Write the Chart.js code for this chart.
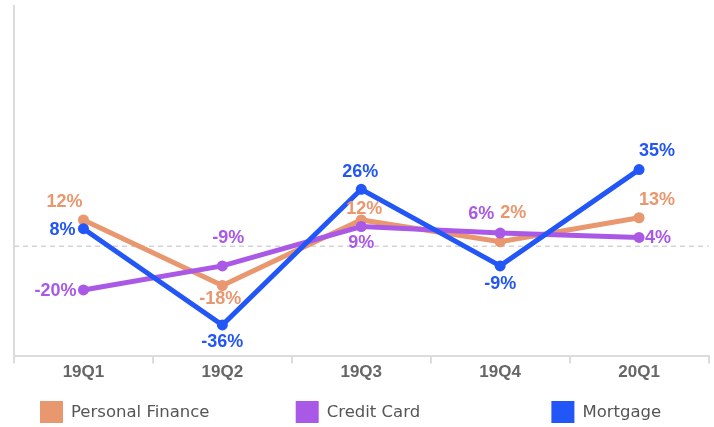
<!DOCTYPE html>
<html><head><meta charset="utf-8">
<script src="https://cdn.jsdelivr.net/npm/chart.js@4.4.0/dist/chart.umd.min.js"></script>
<style>html,body{margin:0;padding:0;background:#fff;} #wrap{width:714px;height:427px;position:relative;}</style>
</head><body><div id="wrap"><canvas id="c"></canvas></div>
<script>
const categories = ['19Q1', '19Q2', '19Q3', '19Q4', '20Q1'];
const personalFinance = [12, -18, 12, 2, 13];
const creditCard = [-20, -9, 9, 6, 4];
const mortgage = [8, -36, 26, -9, 35];
const seriesNames = ['Personal Finance', 'Credit Card', 'Mortgage'];

const colors = ['#E9976F', '#A959E6', '#2256F6'];
// label offsets relative to each point (style only)
const labelOffsets = [
  [[-19,-19],[-2,12],[3,-12],[13,-30],[18,-19]],
  [[-28,0],[6,-29],[0,16],[-19,-20],[19,0]],
  [[-21,0],[0,16],[-1,-18],[0,17],[18,-20]]
];

const zeroLine = {
  id: 'zeroLine',
  beforeDatasetsDraw(chart) {
    const {ctx, chartArea, scales} = chart;
    const y = scales.y.getPixelForValue(0);
    ctx.save();
    ctx.strokeStyle = '#d3d3d3';
    ctx.lineWidth = 1.5;
    ctx.setLineDash([5, 4]);
    ctx.beginPath();
    ctx.moveTo(chartArea.left, y);
    ctx.lineTo(chartArea.right, y);
    ctx.stroke();
    ctx.restore();
  }
};

const pointLabels = {
  id: 'pointLabels',
  afterDatasetsDraw(chart) {
    const ctx = chart.ctx;
    ctx.save();
    ctx.font = 'bold 18px "Liberation Sans", Arial, sans-serif';
    ctx.textAlign = 'center';
    ctx.textBaseline = 'middle';
    chart.data.datasets.forEach((ds, i) => {
      const meta = chart.getDatasetMeta(i);
      meta.data.forEach((pt, j) => {
        const off = labelOffsets[i][j];
        ctx.fillStyle = ds.borderColor;
        ctx.fillText(Math.round(ds.data[j]) + '%', pt.x + off[0], pt.y + off[1] + 1);
      });
    });
    ctx.restore();
  }
};

const columnLegend = {
  id: 'columnLegend',
  afterDraw(chart) {
    const ctx = chart.ctx;
    ctx.save();
    ctx.font = '16.5px "DejaVu Sans", sans-serif';
    ctx.textBaseline = 'middle';
    ctx.textAlign = 'left';
    chart.data.datasets.forEach((ds, i) => {
      const x = 40 + i * 255.7;
      ctx.fillStyle = ds.borderColor;
      ctx.fillRect(x, 401, 23, 22);
      ctx.fillStyle = '#555555';
      ctx.fillText(ds.label, x + 31, 413);
    });
    ctx.restore();
  }
};

const seriesData = [personalFinance, creditCard, mortgage];
const drawOrder = [2, 1, 0];

new Chart(document.getElementById('c'), {
  type: 'line',
  data: {
    labels: categories,
    datasets: seriesData.map((d, i) => ({
      label: seriesNames[i],
      data: d,
      borderColor: colors[i],
      backgroundColor: colors[i],
      pointBackgroundColor: colors[i],
      pointBorderColor: colors[i],
      borderWidth: 5,
      pointRadius: 5.5,
      pointBorderWidth: 0,
      tension: 0,
      order: drawOrder[i],
      clip: false
    }))
  },
  options: {
    responsive: true,
    maintainAspectRatio: false,
    animation: false,
    layout: { padding: { left: 14, right: 5, top: 4, bottom: 45 } },
    plugins: { legend: { display: false }, tooltip: { enabled: false } },
    scales: {
      x: {
        offset: true,
        grid: { offset: true, drawOnChartArea: false, drawTicks: true, tickLength: 8, color: '#dcdcdc', lineWidth: 2 },
        border: { display: true, color: '#dcdcdc', width: 2 },
        ticks: { color: '#666666', padding: -1, font: { family: '"Liberation Sans", Arial, sans-serif', size: 17, weight: 'bold' } }
      },
      y: {
        min: -50,
        max: 110,
        grid: { drawOnChartArea: false, drawTicks: false },
        border: { display: true, color: '#dcdcdc', width: 2 },
        ticks: { display: false }
      }
    }
  },
  plugins: [zeroLine, pointLabels, columnLegend]
});
</script>
</body></html>
